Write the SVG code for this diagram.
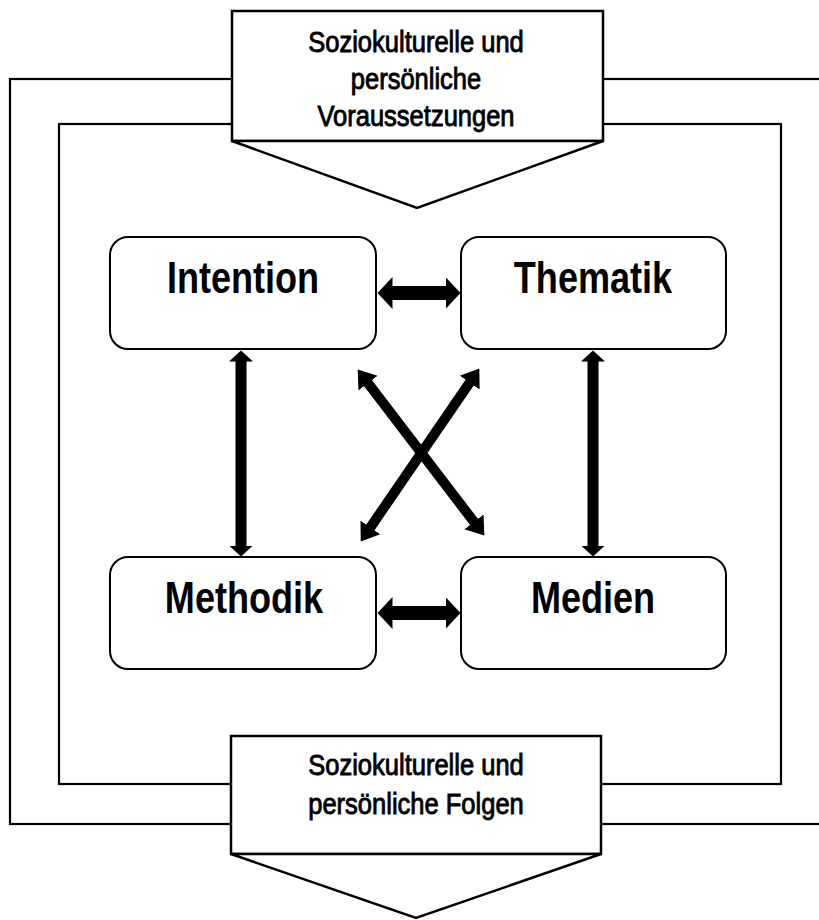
<svg xmlns="http://www.w3.org/2000/svg" width="819" height="920" viewBox="0 0 819 920">
<style>
.frame{fill:none;stroke:#000;stroke-width:2.2}
.box{fill:#fff;stroke:#000;stroke-width:2.5}
.node{fill:#fff;stroke:#000;stroke-width:2}
.lbl{font-family:"Liberation Sans",Arial,sans-serif;text-anchor:middle;fill:#000}
.small{font-size:29px;stroke:#000;stroke-width:0.9}
.big{font-size:44px;font-weight:bold}
.conn{stroke:#000;fill:none}
</style>
<defs>
<marker id="hh" markerUnits="userSpaceOnUse" markerWidth="16" markerHeight="34" refX="0.5" refY="17" orient="auto-start-reverse" viewBox="0 0 16 34"><path d="M0,1 L15,17 L0,33 Z" fill="#000"/></marker>
<marker id="vh" markerUnits="userSpaceOnUse" markerWidth="12" markerHeight="26" refX="0.5" refY="13" orient="auto-start-reverse" viewBox="0 0 12 26"><path d="M0,1 L11,13 L0,25 Z" fill="#000"/></marker>
<marker id="dh" markerUnits="userSpaceOnUse" markerWidth="18" markerHeight="26" refX="0.5" refY="13" orient="auto-start-reverse" viewBox="0 0 18 26"><path d="M0,1 L17,13 L0,25 Z" fill="#000"/></marker>
</defs>
<rect width="819" height="920" fill="#fff"/>
<g id="frames">
<rect class="frame" x="10" y="79" width="820" height="745"/>
<rect class="frame" x="59" y="124" width="722" height="660"/>
</g>
<g id="voraussetzungen">
<path class="box" d="M232,11 H603 V141 H232 Z"/>
<path class="box" d="M232,141 H603 L417,208 Z"/>
<text class="lbl small" transform="translate(416,52) scale(0.88,1)">Soziokulturelle und</text>
<text class="lbl small" transform="translate(416,89) scale(0.88,1)">persönliche</text>
<text class="lbl small" transform="translate(416,126) scale(0.88,1)">Voraussetzungen</text>
</g>
<g id="folgen">
<path class="box" d="M231,736 H601 V854 H231 Z"/>
<path class="box" d="M231,854 H601 L416,918 Z"/>
<text class="lbl small" transform="translate(416,775) scale(0.88,1)">Soziokulturelle und</text>
<text class="lbl small" transform="translate(416,814) scale(0.88,1)">persönliche Folgen</text>
</g>
<g id="intention">
<rect class="node" x="110" y="237" width="266" height="112" rx="18"/>
<text class="lbl big" transform="translate(243,293) scale(0.82,1)">Intention</text>
</g>
<g id="thematik">
<rect class="node" x="461" y="237" width="265" height="112" rx="18"/>
<text class="lbl big" transform="translate(593,293) scale(0.82,1)">Thematik</text>
</g>
<g id="methodik">
<rect class="node" x="110" y="557" width="266" height="112" rx="18"/>
<text class="lbl big" transform="translate(244,613) scale(0.82,1)">Methodik</text>
</g>
<g id="medien">
<rect class="node" x="461" y="557" width="265" height="112" rx="18"/>
<text class="lbl big" transform="translate(593,613) scale(0.82,1)">Medien</text>
</g>
<g id="connectors">
<line class="conn" x1="392" y1="293" x2="446" y2="293" stroke-width="14" marker-start="url(#hh)" marker-end="url(#hh)"/>
<line class="conn" x1="392" y1="613" x2="446" y2="613" stroke-width="14" marker-start="url(#hh)" marker-end="url(#hh)"/>
<line class="conn" x1="241" y1="361" x2="241" y2="546" stroke-width="11" marker-start="url(#vh)" marker-end="url(#vh)"/>
<line class="conn" x1="593" y1="361" x2="593" y2="546" stroke-width="11" marker-start="url(#vh)" marker-end="url(#vh)"/>
<line class="conn" x1="367.7" y1="382.7" x2="474.3" y2="522.3" stroke-width="10" marker-start="url(#dh)" marker-end="url(#dh)"/>
<line class="conn" x1="470" y1="382.2" x2="370.1" y2="527.8" stroke-width="10" marker-start="url(#dh)" marker-end="url(#dh)"/>
</g>
</svg>
